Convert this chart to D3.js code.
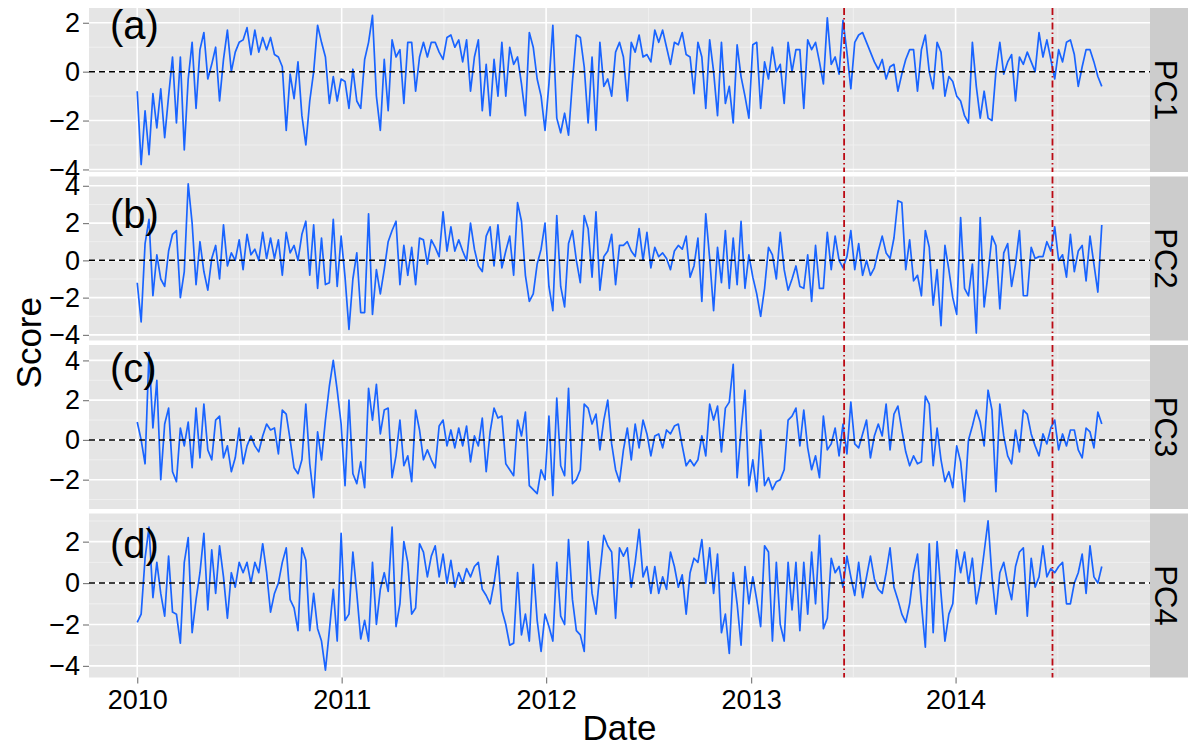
<!DOCTYPE html>
<html>
<head>
<meta charset="utf-8">
<script src="https://cdn.jsdelivr.net/npm/d3@7"></script>
<style>
  body { margin: 0; background: #fff; }
  text { font-family: "Liberation Sans", Arial, Helvetica, sans-serif; }
</style>
</head>
<body>
<div id="chart"></div>
<script>
// weekly scores, first value on 2010-01-01
var startDate = "2010-01-01";
var stepDays = 7;
var panelNames = ["PC1", "PC2", "PC3", "PC4"];
var panelTags = ["(a)", "(b)", "(c)", "(d)"];
var eventDates = ["2013-06-16", "2014-06-23"];
var yearTicks = [2010, 2011, 2012, 2013, 2014];

var pc1 = [
  -0.8,-3.8,-1.6,-3.4,-0.9,-2.3,-0.7,-2.7,-1.0,0.6,
  -2.1,0.6,-3.2,-0.3,1.2,-1.5,0.9,1.6,-0.3,0.3,
  1.0,-1.2,0.5,1.7,0.0,0.8,1.2,1.3,1.8,0.7,
  1.7,0.8,1.4,0.9,1.4,0.7,0.6,0.2,-2.4,-0.1,
  -1.1,0.4,-1.8,-3.0,-1.2,0.0,1.9,1.2,0.6,-1.3,
  -0.2,-1.2,-0.3,
  -0.4,-1.5,0.1,-1.2,-1.5,0.5,1.2,2.3,-1.0,-2.4,
  0.5,-1.6,1.3,0.6,0.9,-1.3,1.2,1.2,-0.8,
  0.6,
  1.2,0.6,1.2,1.2,0.8,0.5,1.4,1.5,1.0,1.3,
  0.4,1.3,-0.8,0.6,1.3,-1.6,0.3,-1.8,0.5,-1.0,
  1.2,-1.0,1.0,0.3,0.6,-0.5,-1.8,1.6,1.0,-0.3,
  -1.0,-2.4,-0.5,1.9,-1.9,-2.5,-1.7,-2.6,-0.4,1.5,
  1.4,0.2,-2.1,0.6,-2.4,1.2,-0.6,-0.3,-1.0,0.8,
  1.2,0.6,-1.2,1.2,0.8,1.5,0.6,0.7,0.4,1.7,
  1.2,1.7,1.0,0.3,1.2,1.1,1.6,0.7,0.6,-0.9,
  1.2,0.6,-1.5,1.3,0.0,-1.8,1.2,-1.3,-0.6,-2.1,
  1.1,-0.2,-1.0,-1.9,1.1,1.2,-1.5,0.4,-0.3,1.0,
  0.0,
  0.3,-1.3,1.2,0.0,0.9,0.9,-1.5,1.3,0.9,1.2,
  0.4,-0.5,2.2,0.3,0.6,-0.1,2.1,0.8,-0.7,1.2,
  1.5,1.6,1.2,0.8,0.4,0.1,0.5,-0.3,0.2,0.3,
  -0.8,-0.1,0.5,0.9,0.9,-0.8,0.9,1.5,0.0,-0.7,
  1.2,0.8,-1.0,-0.2,-0.4,-1.0,-1.2,-1.8,-2.1,1.2,
  -0.6,-1.9,-0.8,-1.9,-2.0,0.0,1.2,-0.1,0.4,0.7,
  -1.2,0.6,0.3,0.8,0.4,0.0,1.6,0.6,1.3,0.5,
  -0.3,0.9,0.4,1.2,1.3,0.7,-0.6,0.2,0.9,0.9,
  0.4,-0.2,-0.6
];

var pc2 = [
  -1.2,-3.3,0.9,2.2,-1.9,0.3,-1.0,-1.4,0.5,1.4,
  1.6,-2.0,-0.6,4.1,2.0,-1.3,1.0,-0.6,-1.6,0.1,
  0.8,-1.0,1.9,-0.3,0.4,0.0,1.1,-0.5,1.4,0.3,
  0.6,0.0,1.5,0.1,1.2,0.1,1.1,-0.8,1.5,0.4,
  0.8,0.0,1.4,2.1,-0.8,1.9,-1.5,1.2,-1.3,-1.2,
  2.2,-1.4,1.3,-0.9,-3.7,-1.0,0.4,-2.8,-2.8,2.5,
  -2.9,-0.5,-1.8,
  -0.5,1.0,1.6,2.1,-1.3,0.8,-0.8,0.7,-1.3,1.2,
  1.1,-0.2,1.1,0.7,0.2,2.6,0.5,1.8,0.5,1.1,
  0.5,0.0,2.0,0.6,-0.3,-0.6,1.3,1.8,-0.3,1.9,
  -0.4,0.5,1.3,-0.8,3.1,2.1,-0.8,-2.2,-1.8,-0.2,
  0.6,2.0,-1.4,-2.7,2.4,-1.4,-2.5,0.9,1.6,0.0,
  -1.2,2.4,1.7,-0.9,2.6,-1.6,0.2,0.5,1.4,-1.3,
  0.8,0.8,1.0,0.5,0.2,1.7,0.0,1.5,-0.4,0.7,
  0.2,0.4,0.1,-0.5,0.5,0.8,0.6,1.3,-0.9,-0.3,
  1.2,-2.2,2.5,0.1,-2.7,0.7,-1.2,1.6,-1.5,1.2,
  -1.3,2.1,-1.5,0.3,-0.9,-1.8,-3.0,-1.5,0.7,0.3,
  -1.0,
  1.5,-0.5,-1.6,-1.0,-0.3,-1.4,-1.5,0.3,-2.2,0.8,
  -1.5,-1.5,1.5,-0.5,1.3,0.0,-0.4,0.2,1.6,-0.5,
  0.9,-0.8,0.0,-0.8,-0.4,0.5,1.3,0.4,0.1,1.2,
  3.2,3.1,-0.5,1.1,-1.1,-0.8,-1.9,1.6,0.7,-2.4,
  -0.5,-3.5,0.8,-0.5,-2.0,-2.9,2.3,-1.5,-1.9,-0.2,
  -3.9,2.3,-2.5,-0.7,1.3,0.8,-2.6,0.4,0.9,-1.4,
  -0.2,1.6,-1.9,-1.9,0.7,0.1,0.2,0.2,1.0,0.5,
  1.8,0.0,0.3,-0.9,1.4,-0.6,0.5,0.8,-1.1,1.3,
  -0.2,-1.7,1.9
];

var pc3 = [
  0.9,0.0,-1.2,4.4,0.6,3.0,-2.0,0.8,1.6,-1.6,
  -2.1,0.6,-0.3,0.9,-1.4,1.6,-0.9,1.8,-0.5,-1.0,
  1.0,1.2,-0.9,-0.3,-1.6,-0.9,0.6,-1.2,-0.3,0.2,
  -0.3,-0.6,0.2,0.8,0.5,0.6,-0.7,1.5,1.3,0.0,
  -1.4,-1.7,-1.0,1.8,-1.2,-2.9,0.4,-1.0,1.0,2.7,
  4.0,2.5,0.8,-2.3,2.0,-1.7,-2.2,-1.1,-2.4,2.6,
  1.0,2.8,0.3,1.5,1.6,-1.9,-0.8,
  1.0,-1.3,-0.8,-2.1,1.5,0.5,-1.0,-0.5,-1.0,-1.4,
  0.7,1.0,-0.3,0.5,-0.4,0.6,-0.3,0.7,-1.1,0.2,
  -0.3,1.1,-1.6,0.4,1.6,1.1,1.2,-1.2,-1.5,-1.8,
  1.0,0.2,1.4,-2.3,-2.5,-2.7,-1.5,-2.0,1.2,-2.8,
  2.1,-1.3,-1.8,2.6,-2.2,-2.0,-1.5,1.8,1.6,0.8,
  1.3,-0.5,1.0,2.0,-0.2,-1.5,-2.1,-0.5,0.6,-1.0,
  0.8,-0.4,1.0,0.3,-0.8,0.2,0.3,-0.4,0.5,0.3,
  0.7,0.8,-0.3,-1.3,-1.0,-1.3,-1.0,0.2,-0.8,1.8,
  1.0,1.7,-0.6,1.6,1.9,3.8,-1.9,0.5,2.5,-2.3,
  -1.0,-2.6,0.5,-2.3,-1.9,-2.5,-2.1,
  -2.0,-1.5,1.0,1.2,1.6,-0.3,1.5,-0.4,-1.5,-0.8,
  -1.9,1.2,-0.5,-0.2,0.6,-0.8,0.8,-0.7,1.9,-0.2,
  -0.4,0.3,1.0,-0.9,0.2,0.8,0.2,1.8,-0.5,1.3,
  1.7,0.5,-0.6,-1.3,-0.8,-1.2,-1.1,2.2,1.8,-1.3,
  0.6,-1.0,-2.1,-1.6,-2.4,-0.3,-1.1,-3.1,0.0,0.7,
  1.5,0.9,-0.3,2.5,1.5,-2.6,1.8,0.2,-0.8,-1.2,
  0.5,-0.6,1.5,1.3,0.3,-0.3,-0.8,0.3,-0.2,0.6,
  1.0,-0.5,0.3,-0.3,0.5,0.5,-0.5,-0.9,0.6,0.4,
  -0.4,1.4,0.8
];

var pc4 = [
  -1.9,-1.5,1.2,2.7,-0.7,1.0,-0.5,-1.6,1.3,-1.4,
  -1.5,-2.9,1.0,2.2,-2.4,-0.8,0.5,2.4,-1.3,1.6,
  -0.5,1.8,0.3,-1.7,0.5,-0.2,1.0,0.5,1.0,0.0,
  1.0,0.5,1.9,0.5,-1.4,-0.5,0.0,1.0,1.7,-0.8,
  -1.2,-2.3,1.7,1.1,-2.3,-0.5,-2.2,-2.8,-4.2,-2.3,
  -0.3,-2.8,2.4,-1.8,-1.5,1.5,-0.5,-2.7,-1.8,-2.8,
  1.0,-2.0,-0.3,0.5,-0.4,2.7,-2.1,
  -1.0,2.0,1.0,-1.5,-1.2,1.9,1.5,0.3,1.3,1.8,
  0.3,1.4,0.0,1.1,-0.2,0.5,0.0,0.7,0.3,0.8,
  1.0,-0.3,-0.6,-1.0,0.0,1.3,-1.3,-2.0,-3.0,-2.9,
  0.5,-2.5,-1.5,-2.8,0.9,-1.8,-3.3,-1.5,-2.1,-2.8,
  1.0,-1.6,-2.0,2.1,-0.8,-2.3,-2.5,-3.3,2.0,-0.5,
  -1.5,0.5,2.3,1.8,1.5,-1.7,1.7,1.3,1.7,-0.2,
  1.0,2.6,0.3,0.8,-0.5,0.8,-0.5,0.3,-0.3,1.5,
  0.8,-0.2,0.4,-1.5,0.5,1.2,1.0,2.1,0.0,1.7,
  -0.5,1.4,-2.4,-1.5,-3.4,0.5,-1.0,-3.0,0.8,-1.0,
  0.3,-0.8,-2.1,1.8,1.5,-2.8,1.0,
  -2.0,-2.8,1.0,-1.3,1.0,-2.3,1.0,-1.5,1.5,-1.0,
  2.3,-2.2,-1.7,1.2,0.5,0.8,-0.2,1.3,0.3,-0.6,
  1.0,-0.7,0.3,1.3,0.2,-0.3,-0.5,0.5,1.7,-0.2,
  -0.8,-1.5,-1.9,-1.0,0.5,1.4,-1.0,-3.1,1.9,-2.4,
  2.0,-0.5,-2.8,-1.5,-1.0,1.6,0.5,1.5,0.0,1.2,
  -1.0,0.0,1.5,3.0,0.3,-1.5,0.5,1.0,0.0,-0.8,
  0.8,1.5,1.7,-1.6,1.2,-0.2,0.3,1.8,0.3,0.7,
  0.5,0.8,1.0,-1.0,-1.0,0.0,0.5,1.4,-0.5,1.8,
  0.3,0.0,0.8
];

var series = [pc1, pc2, pc3, pc4];

var svgWidth = 1188;
var svgHeight = 746;
var plotLeft = 89;
var plotRight = 1150;
var stripWidth = 38;
var panelTop = 8;
var panelHeight = 164;
var panelGap = 4.5;
var tagBaseline = [31, 51, 37, 44];   // px below panel top

var svg = d3.select("#chart")
  .append("svg")
  .attr("width", svgWidth)
  .attr("height", svgHeight);

var parseDate = d3.timeParse("%Y-%m-%d");
var t0 = parseDate(startDate);
var dates = pc1.map((v, i) => d3.timeDay.offset(t0, i * stepDays));

// ggplot style 5% expansion on the time axis
var first = dates[0], last = dates[dates.length - 1];
var pad = (last - first) * 0.05;
var x = d3.scaleTime()
  .domain([new Date(+first - pad), new Date(+last + pad)])
  .range([plotLeft, plotRight]);

var yearDates = yearTicks.map(y => new Date(y, 0, 1));
var allYears = d3.range(yearTicks[0] - 1, yearTicks[yearTicks.length - 1] + 2).map(y => new Date(y, 0, 1));
var minorX = d3.pairs(allYears).map(p => new Date((+p[0] + +p[1]) / 2))
  .filter(d => d > x.domain()[0] && d < x.domain()[1]);

var lastBottom = 0;

series.forEach(function(vals, i) {
  var top = panelTop + i * (panelHeight + panelGap);
  var bottom = top + panelHeight;
  lastBottom = bottom;

  var ext = d3.extent(vals);
  var span = ext[1] - ext[0];
  var y = d3.scaleLinear()
    .domain([ext[0] - span * 0.05, ext[1] + span * 0.05])
    .range([bottom, top]);
  var dom = y.domain();

  var g = svg.append("g");

  g.append("rect")
    .attr("x", plotLeft).attr("y", top)
    .attr("width", plotRight - plotLeft).attr("height", panelHeight)
    .attr("fill", "#e5e5e5");

  var majorY = d3.range(-6, 7, 2).filter(v => v >= dom[0] && v <= dom[1]);
  var minorY = d3.range(-5, 6, 2).filter(v => v > dom[0] && v < dom[1]);

  // minor grid
  g.selectAll(".minor-y").data(minorY).enter().append("line")
    .attr("x1", plotLeft).attr("x2", plotRight)
    .attr("y1", d => y(d)).attr("y2", d => y(d))
    .attr("stroke", "#f2f2f2").attr("stroke-width", 0.8);
  g.selectAll(".minor-x").data(minorX).enter().append("line")
    .attr("x1", d => x(d)).attr("x2", d => x(d))
    .attr("y1", top).attr("y2", bottom)
    .attr("stroke", "#f2f2f2").attr("stroke-width", 0.8);

  // major grid
  g.selectAll(".major-y").data(majorY).enter().append("line")
    .attr("x1", plotLeft).attr("x2", plotRight)
    .attr("y1", d => y(d)).attr("y2", d => y(d))
    .attr("stroke", "#ffffff").attr("stroke-width", 1.6);
  g.selectAll(".major-x").data(yearDates).enter().append("line")
    .attr("x1", d => x(d)).attr("x2", d => x(d))
    .attr("y1", top).attr("y2", bottom)
    .attr("stroke", "#ffffff").attr("stroke-width", 1.6);

  // the series
  var line = d3.line()
    .x((d, j) => x(dates[j]))
    .y(d => y(d));
  g.append("path")
    .datum(vals)
    .attr("d", line)
    .attr("fill", "none")
    .attr("stroke", "#1964ff")
    .attr("stroke-width", 1.7)
    .attr("stroke-linejoin", "round");

  // zero reference
  g.append("line")
    .attr("x1", plotLeft).attr("x2", plotRight)
    .attr("y1", y(0)).attr("y2", y(0))
    .attr("stroke", "#000").attr("stroke-width", 1.5)
    .attr("stroke-dasharray", "6,4");

  // event markers
  g.selectAll(".event").data(eventDates.map(parseDate)).enter().append("line")
    .attr("x1", d => x(d)).attr("x2", d => x(d))
    .attr("y1", top).attr("y2", bottom)
    .attr("stroke", "#bb0a14").attr("stroke-width", 1.8)
    .attr("stroke-dasharray", "7,3,1.5,3");

  // y axis
  var yAxis = g.append("g")
    .attr("transform", `translate(${plotLeft}, 0)`)
    .call(d3.axisLeft(y).tickValues(majorY).tickFormat(d3.format("d")).tickSize(6).tickPadding(3));
  yAxis.select(".domain").remove();
  yAxis.selectAll("line").attr("stroke", "#7f7f7f").attr("stroke-width", 1.2);
  yAxis.selectAll("text")
    .attr("font-size", 27)
    .attr("font-family", "Liberation Sans, Arial, sans-serif")
    .attr("fill", "#000");

  // strip
  g.append("rect")
    .attr("x", plotRight).attr("y", top)
    .attr("width", stripWidth).attr("height", panelHeight)
    .attr("fill", "#cccccc");
  g.append("text")
    .attr("transform", `translate(${plotRight + 5}, ${(top + bottom) / 2}) rotate(90)`)
    .attr("text-anchor", "middle")
    .attr("font-size", 31)
    .attr("fill", "#000")
    .text(panelNames[i]);

  // panel tag
  g.append("text")
    .attr("x", 110)
    .attr("y", top + tagBaseline[i])
    .attr("font-size", 40)
    .attr("fill", "#000")
    .text(panelTags[i]);
});

// x axis
var xAxis = svg.append("g")
  .attr("transform", `translate(0, ${lastBottom})`)
  .call(d3.axisBottom(x).tickValues(yearDates).tickFormat(d3.timeFormat("%Y")).tickSize(6).tickPadding(6));
xAxis.select(".domain").remove();
xAxis.selectAll("line").attr("stroke", "#7f7f7f").attr("stroke-width", 1.2);
xAxis.selectAll("text")
  .attr("font-size", 27)
  .attr("font-family", "Liberation Sans, Arial, sans-serif")
  .attr("fill", "#000");

// axis titles
svg.append("text")
  .attr("x", (plotLeft + plotRight) / 2)
  .attr("y", 740)
  .attr("text-anchor", "middle")
  .attr("font-size", 35)
  .attr("fill", "#000")
  .text("Date");

svg.append("text")
  .attr("transform", `translate(41, ${(panelTop + lastBottom) / 2}) rotate(-90)`)
  .attr("text-anchor", "middle")
  .attr("font-size", 35)
  .attr("fill", "#000")
  .text("Score");
</script>
</body>
</html>
